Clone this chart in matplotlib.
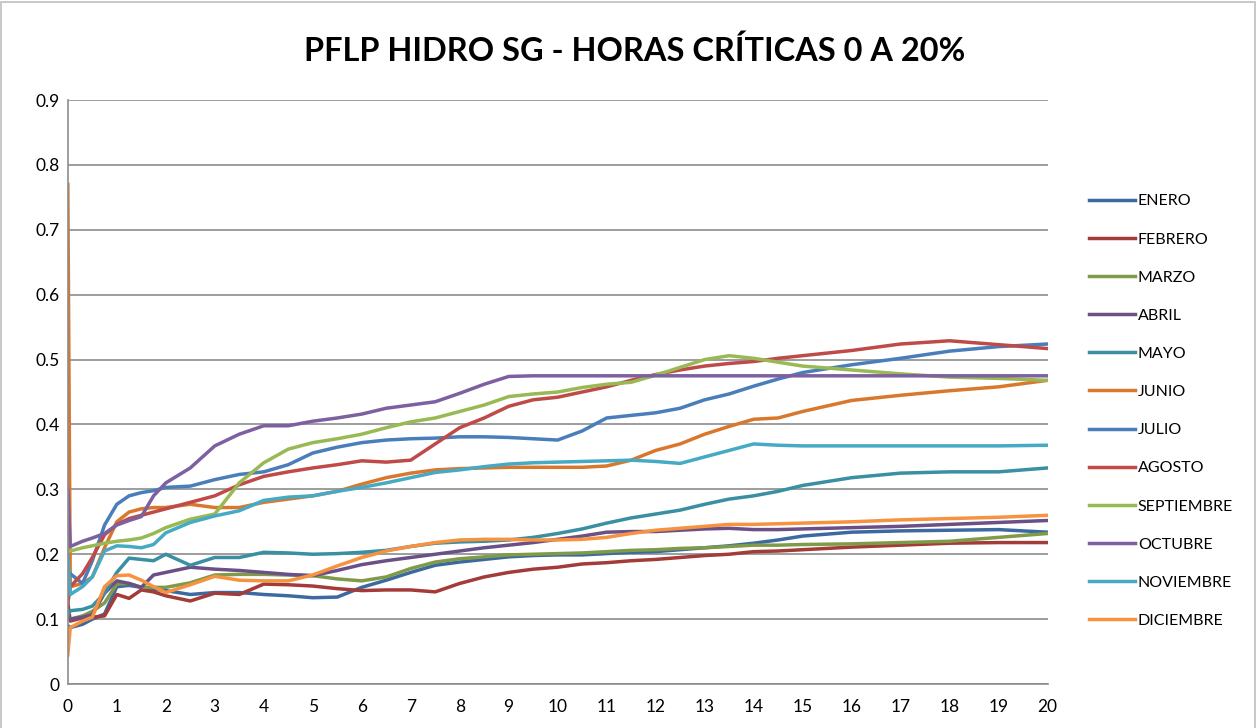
import matplotlib
matplotlib.use("Agg")
import matplotlib.pyplot as plt
from matplotlib.patches import Rectangle

# Eje X común (horas críticas, %)
x = [0, 0.05, 0.3, 0.5, 0.75, 1, 1.25, 1.5, 1.75, 2, 2.5, 3, 3.5, 4, 4.5, 5, 5.5, 6, 6.5, 7,
     7.5, 8, 8.5, 9, 9.5, 10, 10.5, 11, 11.5, 12, 12.5, 13, 13.5, 14, 14.5, 15, 16, 17, 18, 19, 20]

enero = [0.09, 0.087, 0.092, 0.10, 0.108, 0.15, 0.152, 0.149, 0.146, 0.144, 0.138, 0.141, 0.141, 0.138,
         0.136, 0.133, 0.134, 0.149, 0.16, 0.172, 0.183, 0.188, 0.192, 0.196, 0.198, 0.199, 0.199, 0.201,
         0.203, 0.204, 0.207, 0.21, 0.213, 0.217, 0.222, 0.228, 0.234, 0.236, 0.237, 0.238, 0.234]
febrero = [0.125, 0.097, 0.102, 0.103, 0.105, 0.138, 0.132, 0.145, 0.142, 0.136, 0.128, 0.14, 0.138, 0.154,
           0.153, 0.151, 0.147, 0.144, 0.145, 0.145, 0.142, 0.155, 0.165, 0.172, 0.177, 0.18, 0.185, 0.187,
           0.19, 0.192, 0.195, 0.198, 0.2, 0.204, 0.205, 0.207, 0.211, 0.214, 0.217, 0.218, 0.218]
marzo = [0.10, 0.10, 0.105, 0.112, 0.125, 0.154, 0.155, 0.149, 0.149, 0.149, 0.156, 0.168, 0.169, 0.169,
         0.168, 0.167, 0.162, 0.159, 0.165, 0.178, 0.188, 0.193, 0.196, 0.199, 0.2, 0.201, 0.202, 0.204,
         0.206, 0.207, 0.209, 0.21, 0.212, 0.214, 0.214, 0.215, 0.216, 0.218, 0.22, 0.226, 0.232]
abril = [0.1, 0.1, 0.103, 0.107, 0.14, 0.159, 0.155, 0.149, 0.168, 0.172, 0.18, 0.177, 0.175, 0.172,
         0.169, 0.167, 0.175, 0.184, 0.19, 0.195, 0.2, 0.205, 0.21, 0.214, 0.218, 0.223, 0.228, 0.234,
         0.235, 0.235, 0.237, 0.239, 0.24, 0.238, 0.238, 0.239, 0.241, 0.243, 0.246, 0.249, 0.252]
mayo = [0.105, 0.113, 0.115, 0.12, 0.14, 0.172, 0.194, 0.192, 0.19, 0.2, 0.183, 0.195, 0.195, 0.203,
        0.202, 0.2, 0.201, 0.203, 0.206, 0.212, 0.217, 0.219, 0.22, 0.222, 0.226, 0.232, 0.239, 0.248,
        0.256, 0.262, 0.268, 0.277, 0.285, 0.29, 0.297, 0.306, 0.318, 0.325, 0.327, 0.327, 0.333]
junio = [0.77, 0.15, 0.155, 0.165, 0.21, 0.25, 0.265, 0.27, 0.272, 0.272, 0.277, 0.272, 0.272, 0.28,
         0.285, 0.29, 0.297, 0.308, 0.318, 0.325, 0.33, 0.332, 0.333, 0.334, 0.334, 0.334, 0.334, 0.336,
         0.345, 0.36, 0.37, 0.385, 0.397, 0.408, 0.41, 0.42, 0.437, 0.445, 0.452, 0.458, 0.468]
julio = [0.16, 0.17, 0.155, 0.19, 0.245, 0.277, 0.29, 0.295, 0.298, 0.303, 0.305, 0.315, 0.323, 0.327,
         0.338, 0.356, 0.365, 0.372, 0.376, 0.378, 0.379, 0.381, 0.381, 0.38, 0.378, 0.376, 0.39, 0.41,
         0.414, 0.418, 0.425, 0.438, 0.447, 0.459, 0.47, 0.48, 0.492, 0.502, 0.513, 0.52, 0.524]
agosto = [0.125, 0.15, 0.17, 0.195, 0.23, 0.246, 0.255, 0.26, 0.265, 0.27, 0.28, 0.29, 0.307, 0.32,
          0.327, 0.333, 0.338, 0.344, 0.342, 0.345, 0.37, 0.395, 0.41, 0.428, 0.438, 0.442, 0.45, 0.458,
          0.468, 0.477, 0.484, 0.49, 0.494, 0.497, 0.502, 0.506, 0.514, 0.524, 0.529, 0.523, 0.517]
septiembre = [0.205, 0.205, 0.21, 0.213, 0.217, 0.22, 0.222, 0.225, 0.232, 0.241, 0.254, 0.262, 0.31, 0.341,
              0.362, 0.372, 0.378, 0.385, 0.395, 0.404, 0.41, 0.42, 0.43, 0.443, 0.447, 0.45, 0.457, 0.462,
              0.465, 0.476, 0.488, 0.5, 0.506, 0.502, 0.496, 0.49, 0.484, 0.478, 0.473, 0.471, 0.468]
octubre = [0.3, 0.212, 0.22, 0.225, 0.232, 0.245, 0.252, 0.258, 0.29, 0.31, 0.333, 0.367, 0.385, 0.398,
           0.398, 0.405, 0.41, 0.416, 0.425, 0.43, 0.435, 0.448, 0.462, 0.474, 0.475, 0.475, 0.475, 0.475,
           0.475, 0.475, 0.475, 0.475, 0.475, 0.475, 0.475, 0.475, 0.475, 0.475, 0.475, 0.475, 0.475]
noviembre = [0.2, 0.138, 0.15, 0.165, 0.205, 0.213, 0.212, 0.21, 0.215, 0.233, 0.249, 0.259, 0.267, 0.283,
             0.288, 0.29, 0.297, 0.303, 0.31, 0.318, 0.326, 0.33, 0.335, 0.339, 0.341, 0.342, 0.343, 0.344,
             0.345, 0.343, 0.34, 0.35, 0.36, 0.37, 0.368, 0.367, 0.367, 0.367, 0.367, 0.367, 0.368]
diciembre = [0.045, 0.087, 0.097, 0.103, 0.15, 0.167, 0.168, 0.16, 0.15, 0.141, 0.153, 0.166, 0.16, 0.159,
             0.159, 0.168, 0.182, 0.195, 0.205, 0.212, 0.218, 0.222, 0.223, 0.223, 0.222, 0.222, 0.223, 0.226,
             0.232, 0.237, 0.24, 0.243, 0.246, 0.246, 0.247, 0.248, 0.25, 0.253, 0.255, 0.257, 0.26]

meses = ['ENERO', 'FEBRERO', 'MARZO', 'ABRIL', 'MAYO', 'JUNIO', 'JULIO', 'AGOSTO',
         'SEPTIEMBRE', 'OCTUBRE', 'NOVIEMBRE', 'DICIEMBRE']
series = [enero, febrero, marzo, abril, mayo, junio, julio, agosto,
          septiembre, octubre, noviembre, diciembre]

# Paleta tipo Excel 2010
colores = ['#3C6AA0', '#A33B38', '#7F9A48', '#6A5087', '#3A8FA3', '#D9782D',
           '#4A7EBB', '#BE4B48', '#98B954', '#7D60A0', '#46AAC5', '#F69240']

plt.rcParams['font.family'] = ['Lato', 'DejaVu Sans']

fig = plt.figure(figsize=(12.56, 7.28), dpi=100)
ax = fig.add_axes([0.054, 0.0604, 0.78, 0.8022])

for nombre, valores, color in zip(meses, series, colores):
    ax.plot(x, valores, color=color, linewidth=2.5, label=nombre, solid_joinstyle='round')

ax.set_xlim(0, 20)
ax.set_ylim(0, 0.9)
ax.set_xticks(range(0, 21))
ax.set_yticks([i / 10 for i in range(10)])
ax.set_yticklabels(['0'] + ['0.%d' % i for i in range(1, 10)])
ax.yaxis.grid(True, color='#8C8C8C', linewidth=1.2)
ax.set_axisbelow(True)
for lado in ['top', 'right']:
    ax.spines[lado].set_visible(False)
for lado in ['left', 'bottom']:
    ax.spines[lado].set_color('#8C8C8C')
    ax.spines[lado].set_linewidth(1.2)
ax.tick_params(length=0, labelsize=12.5, colors='black')
ax.tick_params(axis='y', pad=6)
ax.tick_params(axis='x', pad=11)

fig.text(0.505, 0.93, 'PFLP HIDRO SG - HORAS CRÍTICAS 0 A 20%', ha='center', va='center',
         fontsize=23.4, fontweight='bold')

ax.legend(loc='upper left', bbox_to_anchor=(0.862, 0.742), bbox_transform=fig.transFigure,
          frameon=False, fontsize=11.5, handlelength=2.9, handletextpad=0.15,
          labelspacing=1.5, borderaxespad=0)

# Borde del área del gráfico
fig.patches.append(Rectangle((0.001, -0.01), 0.998, 1.007, transform=fig.transFigure,
                             fill=False, edgecolor='#BFBFBF', linewidth=1.2))

fig.savefig('out.png', dpi=100)
